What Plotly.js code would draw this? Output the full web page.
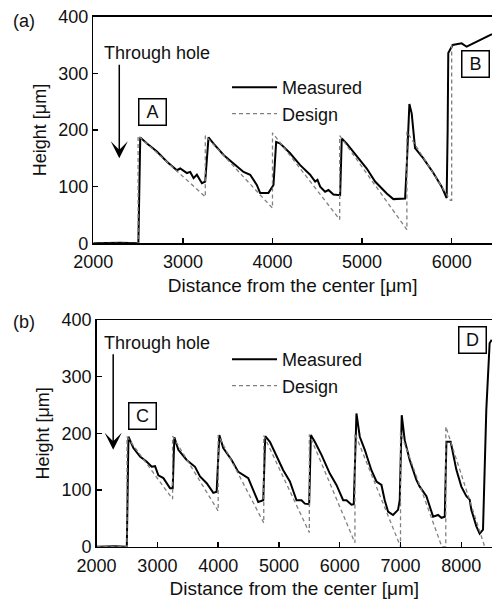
<!DOCTYPE html>
<html>
<head>
<meta charset="utf-8">
<script src="https://cdn.plot.ly/plotly-3.0.1.min.js"></script>
<style>html,body{margin:0;padding:0;background:#fff;}#chart{width:492px;height:599px;}</style>
</head>
<body>
<div id="chart"></div>
<script>
// ---- Data ----
const topMeasX = [2000,2300,2503,2524,2599,2710,2822,2933,2970,3045,3082,3119,3156,3212,3249,3286,
  3342,3454,3565,3677,3751,3825,3862,3955,4011,4041,
  4086,4197,4309,4420,4476,4502,4532,4587,4625,4680,4755,4773,
  4829,4941,5052,5145,5201,5275,5349,5424,5480,5498,5528,
  5554,5591,5684,5796,5888,5926,5944,5955,5962,6011,6060,6111,6167,6230,6290,6350,6423,6450];
const topMeasY = [0,1,0,187,176,162,144,129,132,124,126,115,121,106,109,187,
  176,156,141,126,121,103,89,89,103,179,
  176,159,138,121,109,112,100,91,94,86,85,185,
  176,153,132,109,100,88,78,79,79,135,246,
  229,168,150,124,100,85,80,200,336,350,352,353,347,352,356,362,368,369];

const topDesignX = [2000,2500,2500,3250,3250,4000,4000,4750,4750,5500,5500,5985,6000,6000];
const topDesignY = [0,0,190,82,190,62,195,42,190,24,197,76,76,355];

const botMeasX = [2000,2300,2497,2524,2606,2715,2825,2907,2962,3016,3099,3208,3252,3279,
  3345,3482,3619,3701,3811,3920,3975,4019,
  4084,4221,4331,4413,4495,4577,4659,4742,4774,
  4851,4961,5070,5180,5289,5371,5426,5497,5525,
  5590,5700,5837,5946,6056,6111,6193,6231,6275,
  6330,6412,6521,6604,6686,6740,6795,6877,6959,6987,7020,
  7069,7151,7261,7316,7426,7536,7618,7673,7728,7755,7825,
  7918,8001,8083,8138,8165,8248,8302,8357,8411,8466,8500];
const botMeasY = [0,1,0,194,174,159,150,141,142,126,121,103,103,193,
  171,153,141,124,112,95,97,197,
  174,153,132,126,121,100,79,82,195,
  185,159,135,115,82,82,76,75,197,
  185,162,129,109,82,82,74,75,235,
  194,171,135,115,109,82,62,56,65,82,232,
  188,153,118,106,89,53,56,51,53,185,185,
  136,106,89,83,65,36,23,30,241,359,365];

const botDesignX = [2000,2500,2500,3250,3250,4000,4000,4750,4750,5500,5500,6250,6250,7000,7000,7680,7745,7745,8385];
const botDesignY = [0,0,194,84,195,63,197,42,196,25,198,7,200,0,202,0,0,212,0];

const topXTicks = [2000,3000,4000,5000,6000];
const botXTicks = [2000,3000,4000,5000,6000,7000,8000];
const yTicks = [0,100,200,300,400];

// ---- Styling ----
const FONT = 'Liberation Sans, Arial, Helvetica, sans-serif';
const TXT = '#111';
const W = 492, H = 599;
const measLine = {color:'#000', width:2};
const designLine = {color:'#808080', width:1.3, dash:'4px,3px'};

const traces = [
  {x: topMeasX, y: topMeasY, xaxis:'x', yaxis:'y', mode:'lines', name:'Measured', line: measLine, legend:'legend'},
  {x: topDesignX, y: topDesignY, xaxis:'x', yaxis:'y', mode:'lines', name:'Design', line: designLine, legend:'legend'},
  {x: botMeasX, y: botMeasY, xaxis:'x2', yaxis:'y2', mode:'lines', name:'Measured', line: measLine, legend:'legend2'},
  {x: botDesignX, y: botDesignY, xaxis:'x2', yaxis:'y2', mode:'lines', name:'Design', line: designLine, legend:'legend2'}
];

function xAxis(domain, range, ticks, anchor){
  return {domain, range, anchor, tickvals: ticks, ticks:'inside', ticklen:5, tickwidth:1.5, tickcolor:'#000',
    showline:true, linewidth:1.5, linecolor:'#000', mirror:true, showgrid:false, zeroline:false,
    ticklabelstandoff:2,
    tickfont:{family:FONT, size:18, color:TXT},
    title:{text:'Distance from the center [μm]', font:{family:FONT, size:19, color:TXT}, standoff:7}};
}
function yAxis(domain, anchor){
  return {domain, range:[0,400], anchor, tickvals: yTicks, ticks:'inside', ticklen:5, tickwidth:1.5, tickcolor:'#000',
    showline:true, linewidth:1.5, linecolor:'#000', mirror:true, showgrid:false, zeroline:false,
    tickfont:{family:FONT, size:18, color:TXT},
    title:{text:'Height [μm]', font:{family:FONT, size:18, color:TXT}, standoff:7}};
}

function box(txt, x, y, xref, yref){
  return {text:txt, x, y, xref, yref, showarrow:false, font:{family:FONT, size:18, color:TXT},
    bordercolor:'#000', borderwidth:1.5, borderpad:1, width:24, height:23, bgcolor:'rgba(255,255,255,0)'};
}
function arrow(x, yTip, yTail, xref, yref){
  return {text:'', x, y:yTip, ax:x, ay:yTail, xref, yref, axref:xref, ayref:yref, showarrow:true,
    arrowhead:3, arrowsize:1.9, arrowwidth:1.5, arrowcolor:'#000'};
}
function label(txt, x, y, xref, yref, xanchor){
  return {text:txt, x, y, xref, yref, showarrow:false, xanchor: xanchor||'left', yanchor:'middle',
    font:{family:FONT, size:18, color:TXT}};
}

const layout = {
  width: W, height: H,
  margin:{l:0, r:0, t:0, b:0},
  paper_bgcolor:'#fff', plot_bgcolor:'#fff',
  xaxis: xAxis([93.3/W, 1], [2000, 6450], topXTicks, 'y'),
  yaxis: yAxis([1-243.3/H, 1-16.7/H], 'x'),
  xaxis2: xAxis([96.6/W, 1], [2000, 8505], botXTicks, 'y2'),
  yaxis2: yAxis([1-546.7/H, 1-320/H], 'x2'),
  showlegend: true,
  legend: {x:227/W, y:1-69/H, xanchor:'left', yanchor:'top', bgcolor:'rgba(0,0,0,0)', font:{family:FONT, size:18, color:TXT}, itemwidth:45, tracegroupgap:0},
  legend2: {x:227/W, y:1-341/H, xanchor:'left', yanchor:'top', bgcolor:'rgba(0,0,0,0)', font:{family:FONT, size:18, color:TXT}, itemwidth:45, tracegroupgap:0},
  annotations: [
    label('(a)', 24/W, 1-21/H, 'paper', 'paper', 'center'),
    label('(b)', 24/W, 1-322/H, 'paper', 'paper', 'center'),
    label('Through hole', 2095, 336, 'x', 'y'),
    arrow(2290, 150, 318, 'x', 'y'),
    box('A', 2657, 231, 'x', 'y'),
    box('B', 6262, 316, 'x', 'y'),
    label('Through hole', 2090, 360, 'x2', 'y2'),
    arrow(2273, 171, 342, 'x2', 'y2'),
    box('C', 2749, 230, 'x2', 'y2'),
    box('D', 8179, 364, 'x2', 'y2')
  ]
};

Plotly.newPlot('chart', traces, layout, {staticPlot:true, displayModeBar:false});
</script>
</body>
</html>
